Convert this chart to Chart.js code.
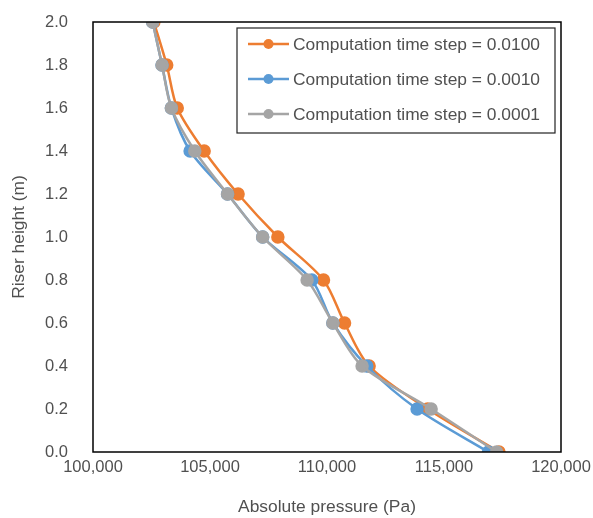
<!DOCTYPE html>
<html>
<head>
<meta charset="utf-8">
<script src="https://cdn.jsdelivr.net/npm/chart.js@4/dist/chart.umd.min.js"></script>
<style>
  html, body { margin: 0; padding: 0; background: #fff; }
  #wrap { width: 593px; height: 518px; }
</style>
</head>
<body>
<div id="wrap"><canvas id="riserChart" width="593" height="518"></canvas></div>
<script>
// riser height (m) for each measured station
const heights = [2.0, 1.8, 1.6, 1.4, 1.2, 1.0, 0.8, 0.6, 0.4, 0.2, 0.0];

// absolute pressure (Pa) per time step
const pressureDt0100 = [102600, 103150, 103600, 104750, 106200, 107900, 109850, 110750, 111800, 114300, 117350];
const pressureDt0010 = [102550, 102950, 103350, 104150, 105750, 107250, 109350, 110250, 111700, 113850, 116900];
const pressureDt0001 = [102550, 102950, 103350, 104350, 105750, 107250, 109150, 110250, 111500, 114450, 117250];

const seriesLabels = [
  'Computation time step = 0.0100',
  'Computation time step = 0.0010',
  'Computation time step = 0.0001'
];
const colors = ['#ED7D31', '#5B9BD5', '#A5A5A5'];

const FONT = "'Liberation Sans', Arial, sans-serif";
Chart.defaults.font.family = FONT;
Chart.defaults.color = '#505050';

function toPoints(xs) {
  return xs.map((x, i) => ({ x: x, y: heights[i] }));
}

function makeSet(label, data, color, order) {
  return {
    label: label,
    data: toPoints(data),
    order: order,
    showLine: true,
    borderColor: color,
    backgroundColor: color,
    borderWidth: 2.5,
    pointRadius: 5.5,
    pointHoverRadius: 5.5,
    tension: 0.3
  };
}

// box around the plot area plus the in-plot legend
const frameAndLegend = {
  id: 'frameAndLegend',
  afterDraw(chart) {
    const c = chart.ctx;
    const a = chart.chartArea;
    c.save();
    c.strokeStyle = '#000';
    c.lineWidth = 1.5;
    c.strokeRect(a.left, a.top, a.right - a.left, a.bottom - a.top);

    const bx = 237, by = 28, bw = 318, bh = 105;
    c.fillStyle = '#fff';
    c.fillRect(bx, by, bw, bh);
    c.strokeStyle = '#222';
    c.lineWidth = 1.2;
    c.strokeRect(bx, by, bw, bh);

    c.font = '17.4px ' + FONT;
    c.textBaseline = 'middle';
    c.textAlign = 'left';
    seriesLabels.forEach((label, i) => {
      const y = by + 16 + i * 35;
      c.strokeStyle = colors[i];
      c.lineWidth = 2.5;
      c.beginPath();
      c.moveTo(248, y);
      c.lineTo(289, y);
      c.stroke();
      c.fillStyle = colors[i];
      c.beginPath();
      c.arc(268.5, y, 5, 0, Math.PI * 2);
      c.fill();
      c.fillStyle = '#505050';
      c.fillText(label, 293, y + 1);
    });
    c.restore();
  }
};

new Chart(document.getElementById('riserChart'), {
  type: 'scatter',
  data: {
    datasets: [
      makeSet(seriesLabels[0], pressureDt0100, colors[0], 3),
      makeSet(seriesLabels[1], pressureDt0010, colors[1], 2),
      makeSet(seriesLabels[2], pressureDt0001, colors[2], 1)
    ]
  },
  options: {
    responsive: false,
    animation: false,
    layout: { padding: { top: 22, right: 32, bottom: 0, left: 0 } },
    plugins: {
      legend: { display: false },
      tooltip: { enabled: false }
    },
    scales: {
      x: {
        type: 'linear',
        min: 100000,
        max: 120000,
        grid: { display: false, drawTicks: false },
        border: { display: false },
        ticks: {
          stepSize: 5000,
          padding: 6,
          font: { size: 16.5 },
          callback: v => v.toLocaleString('en-US')
        },
        title: {
          display: true,
          text: 'Absolute pressure (Pa)',
          font: { size: 17.4 },
          padding: { top: 4, bottom: 0 }
        },
        afterFit(scale) {
          scale.height = 66;
          scale.paddingLeft = 0;
          scale.paddingRight = 0;
        }
      },
      y: {
        type: 'linear',
        min: 0,
        max: 2,
        grid: { display: false, drawTicks: false },
        border: { display: false },
        ticks: {
          stepSize: 0.2,
          padding: 25,
          font: { size: 16.5 },
          callback: v => v.toFixed(1)
        },
        title: {
          display: true,
          text: 'Riser height (m)',
          font: { size: 17.4 },
          padding: { top: 9, bottom: 0 }
        },
        afterFit(scale) {
          scale.width = 93;
          scale.paddingTop = 0;
          scale.paddingBottom = 0;
        }
      }
    }
  },
  plugins: [frameAndLegend]
});
</script>
</body>
</html>
